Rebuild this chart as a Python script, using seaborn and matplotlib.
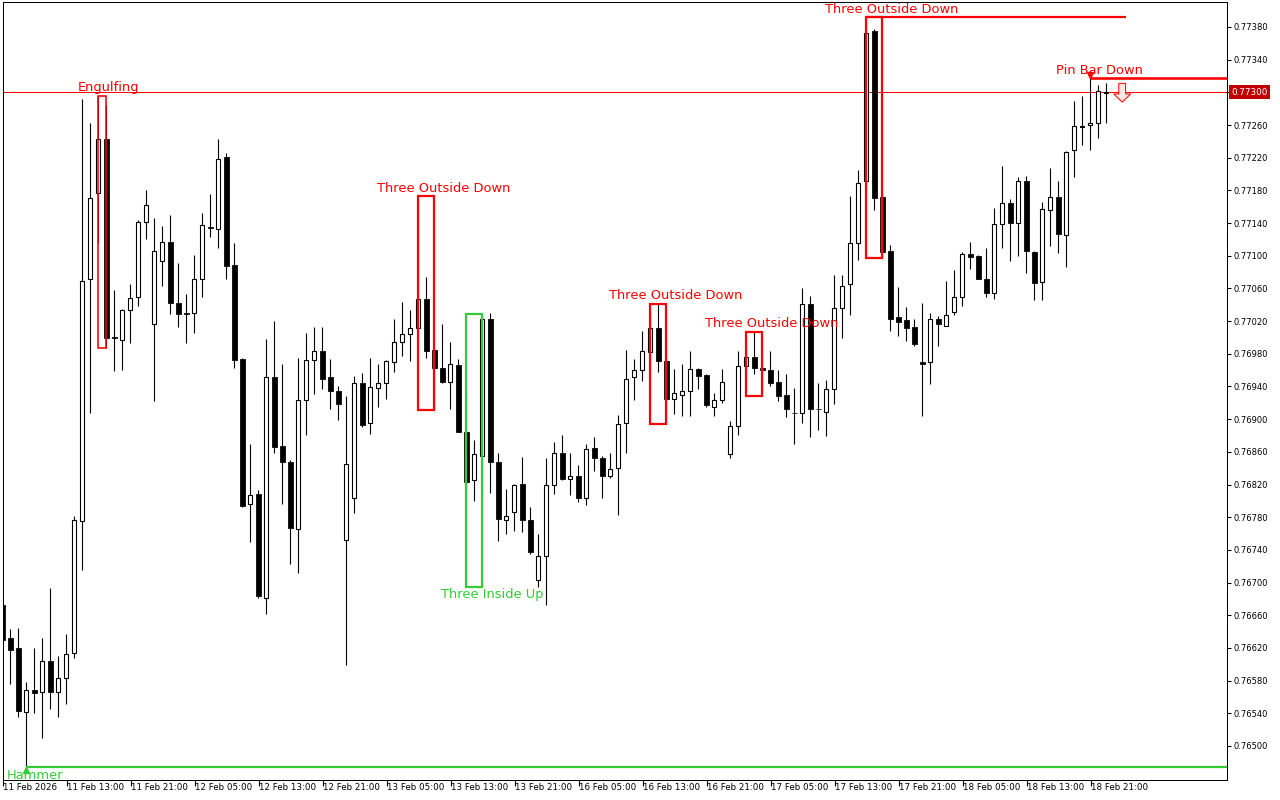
import numpy as np
import pandas as pd
import matplotlib
matplotlib.use('Agg')
import matplotlib.pyplot as plt
import matplotlib.transforms as mtransforms
from matplotlib.patches import Rectangle, FancyArrow
import seaborn as sns

# Velas horarias (precios)
opens = [0.76672, 0.76632, 0.76620, 0.76542, 0.76569, 0.76566, 0.76604, 0.76566, 0.76583, 0.76614,
         0.76775, 0.77072, 0.77177, 0.77243, 0.77001, 0.76997, 0.77033, 0.77049, 0.77141, 0.77016,
         0.77093, 0.77117, 0.77042, 0.77030, 0.77030, 0.77072, 0.77135, 0.77133, 0.77221, 0.77089,
         0.76974, 0.76796, 0.76808, 0.76681, 0.76951, 0.76867, 0.76848, 0.76766, 0.76923, 0.76973,
         0.76984, 0.76951, 0.76934, 0.76752, 0.76803, 0.76944, 0.76895, 0.76938, 0.76944, 0.76970,
         0.76995, 0.77004, 0.77011, 0.77047, 0.76985, 0.76962, 0.76945, 0.76966, 0.76884, 0.76825,
         0.76855, 0.77023, 0.76847, 0.76776, 0.76786, 0.76821, 0.76776, 0.76703, 0.76733, 0.76820,
         0.76858, 0.76827, 0.76830, 0.76803, 0.76865, 0.76852, 0.76830, 0.76840, 0.76895, 0.76951,
         0.76960, 0.76982, 0.77012, 0.76971, 0.76925, 0.76930, 0.76935, 0.76961, 0.76954, 0.76915,
         0.76924, 0.76857, 0.76891, 0.76965, 0.76976, 0.76962, 0.76960, 0.76945, 0.76930, 0.76908,
         0.76907, 0.77041, 0.76913, 0.76909, 0.76937, 0.77036, 0.77065, 0.77115, 0.77191, 0.77375,
         0.77172, 0.77106, 0.77025, 0.77021, 0.77013, 0.76970, 0.76970, 0.77022, 0.77014, 0.77031,
         0.77050, 0.77102, 0.77100, 0.77072, 0.77055, 0.77139, 0.77164, 0.77140, 0.77192, 0.77105,
         0.77068, 0.77156, 0.77172, 0.77126, 0.77229, 0.77258, 0.77260, 0.77262, 0.77299]
highs = [0.76675, 0.76643, 0.76644, 0.76578, 0.76620, 0.76632, 0.76693, 0.76610, 0.76637, 0.76782,
         0.77292, 0.77262, 0.77296, 0.77284, 0.77058, 0.77035, 0.77065, 0.77144, 0.77181, 0.77146,
         0.77136, 0.77150, 0.77091, 0.77053, 0.77101, 0.77152, 0.77176, 0.77243, 0.77226, 0.77115,
         0.76975, 0.76870, 0.76813, 0.76998, 0.77020, 0.76968, 0.76850, 0.76975, 0.77006, 0.77013,
         0.77013, 0.76974, 0.76941, 0.76928, 0.76953, 0.76956, 0.76975, 0.76968, 0.76972, 0.77023,
         0.77043, 0.77034, 0.77173, 0.77074, 0.76988, 0.77016, 0.76995, 0.76974, 0.76931, 0.76875,
         0.77029, 0.77030, 0.76858, 0.76815, 0.76821, 0.76854, 0.76792, 0.76759, 0.76852, 0.76872,
         0.76880, 0.76858, 0.76844, 0.76869, 0.76878, 0.76855, 0.76859, 0.76905, 0.76985, 0.76974,
         0.77008, 0.77031, 0.77041, 0.76973, 0.76961, 0.76968, 0.76983, 0.76962, 0.76955, 0.76932,
         0.76961, 0.76898, 0.76983, 0.76990, 0.77007, 0.76978, 0.76983, 0.76960, 0.76955, 0.76938,
         0.77061, 0.77051, 0.76944, 0.76948, 0.77076, 0.77076, 0.77173, 0.77205, 0.77392, 0.77378,
         0.77179, 0.77113, 0.77062, 0.77037, 0.77023, 0.77042, 0.77030, 0.77026, 0.77069, 0.77083,
         0.77104, 0.77117, 0.77101, 0.77109, 0.77159, 0.77210, 0.77170, 0.77197, 0.77198, 0.77106,
         0.77166, 0.77207, 0.77191, 0.77228, 0.77290, 0.77295, 0.77318, 0.77309, 0.77312]
lows = [0.76625, 0.76576, 0.76536, 0.76474, 0.76540, 0.76510, 0.76545, 0.76536, 0.76551, 0.76608,
        0.76715, 0.76907, 0.77116, 0.76987, 0.76959, 0.76960, 0.76993, 0.77039, 0.77121, 0.76922,
        0.77063, 0.77029, 0.77013, 0.76993, 0.77006, 0.77050, 0.77123, 0.77109, 0.77072, 0.76963,
        0.76792, 0.76750, 0.76681, 0.76662, 0.76858, 0.76796, 0.76723, 0.76712, 0.76880, 0.76931,
        0.76937, 0.76913, 0.76899, 0.76599, 0.76785, 0.76890, 0.76882, 0.76915, 0.76925, 0.76958,
        0.76977, 0.76971, 0.77000, 0.76975, 0.76911, 0.76944, 0.76913, 0.76884, 0.76695, 0.76800,
        0.76809, 0.76809, 0.76751, 0.76760, 0.76763, 0.76762, 0.76735, 0.76694, 0.76672, 0.76808,
        0.76825, 0.76807, 0.76799, 0.76795, 0.76837, 0.76803, 0.76828, 0.76783, 0.76858, 0.76924,
        0.76947, 0.76968, 0.76958, 0.76894, 0.76906, 0.76904, 0.76904, 0.76937, 0.76915, 0.76904,
        0.76920, 0.76853, 0.76880, 0.76960, 0.76955, 0.76928, 0.76940, 0.76922, 0.76903, 0.76870,
        0.76895, 0.76878, 0.76887, 0.76879, 0.76918, 0.76999, 0.77027, 0.77095, 0.77180, 0.77156,
        0.77097, 0.77008, 0.77002, 0.76996, 0.76990, 0.76904, 0.76943, 0.76990, 0.77014, 0.77028,
        0.77039, 0.77084, 0.77072, 0.77050, 0.77047, 0.77110, 0.77093, 0.77100, 0.77079, 0.77046,
        0.77046, 0.77112, 0.77103, 0.77086, 0.77197, 0.77236, 0.77229, 0.77244, 0.77262]
closes = [0.76630, 0.76618, 0.76543, 0.76569, 0.76565, 0.76604, 0.76566, 0.76583, 0.76612, 0.76777,
          0.77069, 0.77171, 0.77243, 0.76999, 0.76999, 0.77033, 0.77048, 0.77141, 0.77162, 0.77106,
          0.77117, 0.77042, 0.77029, 0.77029, 0.77072, 0.77138, 0.77134, 0.77219, 0.77087, 0.76973,
          0.76794, 0.76807, 0.76683, 0.76951, 0.76866, 0.76848, 0.76767, 0.76923, 0.76973, 0.76984,
          0.76949, 0.76935, 0.76918, 0.76845, 0.76944, 0.76893, 0.76939, 0.76944, 0.76971, 0.76995,
          0.77004, 0.77011, 0.77047, 0.76984, 0.76962, 0.76945, 0.76967, 0.76884, 0.76823, 0.76857,
          0.77023, 0.76847, 0.76778, 0.76782, 0.76820, 0.76776, 0.76737, 0.76733, 0.76820, 0.76858,
          0.76827, 0.76830, 0.76803, 0.76864, 0.76852, 0.76830, 0.76839, 0.76894, 0.76949, 0.76960,
          0.76983, 0.77012, 0.76971, 0.76925, 0.76932, 0.76935, 0.76961, 0.76953, 0.76917, 0.76924,
          0.76945, 0.76892, 0.76965, 0.76976, 0.76962, 0.76960, 0.76944, 0.76928, 0.76913, 0.76907,
          0.77041, 0.76913, 0.76912, 0.76937, 0.77036, 0.77063, 0.77116, 0.77189, 0.77373, 0.77171,
          0.77105, 0.77023, 0.77019, 0.77011, 0.76992, 0.76968, 0.77022, 0.77016, 0.77028, 0.77050,
          0.77102, 0.77099, 0.77072, 0.77055, 0.77139, 0.77164, 0.77140, 0.77192, 0.77106, 0.77067,
          0.77157, 0.77172, 0.77127, 0.77227, 0.77259, 0.77259, 0.77263, 0.77302, 0.77300]

# Etiquetas del eje de tiempo (una cada 8 velas)
time_labels = ['11 Feb 2026', '11 Feb 13:00', '11 Feb 21:00', '12 Feb 05:00', '12 Feb 13:00',
               '12 Feb 21:00', '13 Feb 05:00', '13 Feb 13:00', '13 Feb 21:00', '16 Feb 05:00',
               '16 Feb 13:00', '16 Feb 21:00', '17 Feb 05:00', '17 Feb 13:00', '17 Feb 21:00',
               '18 Feb 05:00', '18 Feb 13:00', '18 Feb 21:00']
price_ticks = [0.77380, 0.77340, 0.77300, 0.77260, 0.77220, 0.77180, 0.77140, 0.77100, 0.77060,
               0.77020, 0.76980, 0.76940, 0.76900, 0.76860, 0.76820, 0.76780, 0.76740, 0.76700,
               0.76660, 0.76620, 0.76580, 0.76540, 0.76500]
last_price = 0.77300

# Patrones detectados: nombre, vela inicial, vela final, alcista/bajista
box_names = ['Engulfing', 'Three Outside Down', 'Three Inside Up', 'Three Outside Down',
             'Three Outside Down', 'Three Outside Down']
box_start = [12, 52, 58, 81, 93, 108]
box_end = [13, 54, 60, 83, 95, 110]
box_bull = [False, False, True, False, False, False]
box_label_bar = [13.3, 55.2, 61.3, 84.2, 96.2, 111.15]

df = pd.DataFrame({'open': opens, 'high': highs, 'low': lows, 'close': closes})
df['x'] = np.arange(len(df))

RED = '#FF0000'
GREEN = '#32CD32'
PX = 72 / 100  # un pixel en puntos

sns.set_theme(style='white')
plt.rcParams['font.family'] = ['DejaVu Sans']

fig = plt.figure(figsize=(12.8, 8), dpi=100)
ax = fig.add_axes([3 / 1280, 20 / 800, 1224 / 1280, 778 / 800])
ax.set_xlim(0.1, 153.1)
ax.set_ylim(0.764583, 0.774106)

# mechas
ax.vlines(df['x'], df['low'], df['high'], color='black', lw=1.1 * PX, zorder=2)
up = df['close'] >= df['open']
dn = ~up
ax.bar(df['x'][up], (df['close'] - df['open'])[up], bottom=df['open'][up], width=0.56,
       facecolor='white', edgecolor='black', linewidth=1.1 * PX, zorder=3)
ax.bar(df['x'][dn], (df['open'] - df['close'])[dn], bottom=df['close'][dn], width=0.62,
       facecolor='black', edgecolor='black', linewidth=0.8 * PX, zorder=3)

# linea de precio actual
ax.axhline(last_price, color=RED, lw=1 * PX, zorder=1)

# cajas de patrones
for name, s, e, bull, lx in zip(box_names, box_start, box_end, box_bull, box_label_bar):
    top = df['high'][s:e + 1].max()
    bot = df['low'][s:e + 1].min()
    col = GREEN if bull else RED
    lw = 1.6 if name == 'Engulfing' else 2.2
    ax.add_patch(Rectangle((s, bot), e - s, top - bot, fill=False, edgecolor=col,
                           lw=lw * PX, zorder=4))
    if bull:
        ax.annotate(name, (lx, bot), xytext=(0, -8), textcoords='offset pixels',
                    ha='center', va='center', color=col, fontsize=9.4, zorder=6)
    else:
        ax.annotate(name, (lx, top), xytext=(0, 8), textcoords='offset pixels',
                    ha='center', va='center', color=col, fontsize=9.4, zorder=6)

# nivel superior del ultimo Three Outside Down
s, e = box_start[-1], box_end[-1]
ax.hlines(df['high'][s:e + 1].max(), s, 140.5, color=RED, lw=2.2 * PX, zorder=4)

# Hammer
hb = 3
ax.hlines(df['low'][hb], hb, 154, color=GREEN, lw=2.2 * PX, zorder=4)
ax.plot([hb], [df['low'][hb] - 0.00004], marker='^', color=GREEN, ms=4.5, zorder=5, clip_on=False)
ax.annotate('Hammer', (hb + 1.1, df['low'][hb]), xytext=(0, -8), textcoords='offset pixels',
            ha='center', va='center', color=GREEN, fontsize=9.4, zorder=6, annotation_clip=False)

# Pin Bar Down
pb = 136
ax.hlines(df['high'][pb], pb, 154, color=RED, lw=2.6 * PX, zorder=4)
ax.plot([pb], [df['high'][pb] + 0.00003], marker='v', color=RED, ms=4, zorder=5)
ax.annotate('Pin Bar Down', (pb + 1.15, df['high'][pb]), xytext=(0, 7), textcoords='offset pixels',
            ha='center', va='center', color=RED, fontsize=9.4, zorder=6)
ax.add_patch(FancyArrow(140, 0.77311, 0, -0.00023, width=0.85, head_width=2.1,
                        head_length=0.0001, length_includes_head=True,
                        facecolor='#FFE8E0', edgecolor=RED, lw=1 * PX, zorder=5))

# ejes estilo MT4
for sp in ax.spines.values():
    sp.set_visible(True)
    sp.set_color('black')
    sp.set_linewidth(1 * PX)

ax.set_xticks(np.arange(0, len(time_labels) * 8, 8) + 0.1)
ax.set_xticklabels(time_labels, fontsize=6.3, ha='left')
ax.tick_params(axis='x', direction='out', length=4, width=0.8, pad=-1.5,
               colors='black', bottom=True)
for t in ax.get_xticklabels():
    t.set_horizontalalignment('left')

ax.yaxis.tick_right()
ax.set_yticks(price_ticks)
ax.set_yticklabels(['' if abs(p - last_price) < 1e-9 else f'{p:.5f}' for p in price_ticks],
                   fontsize=6.0)
ax.tick_params(axis='y', direction='out', length=3, width=0.8, pad=1.5, colors='black', right=True)

# etiqueta del precio actual
trans = mtransforms.blended_transform_factory(ax.transAxes, ax.transData)
ax.text(1.0035, last_price, f'{last_price:.5f}', transform=trans, ha='left', va='center',
        fontsize=6.3, color='white', zorder=10,
        bbox=dict(boxstyle='square,pad=0.3', facecolor='#C00000', edgecolor='none'))

ax.grid(False)
fig.savefig('out.png', dpi=100, facecolor='white')
